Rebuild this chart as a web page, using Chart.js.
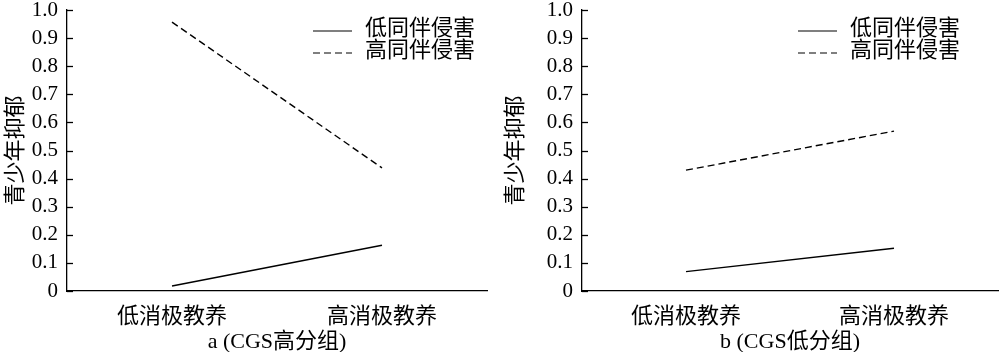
<!DOCTYPE html>
<html>
<head>
<meta charset="utf-8">
<script src="https://cdn.jsdelivr.net/npm/chart.js@4/dist/chart.umd.min.js"></script>
<style>
  body { margin: 0; background: #fff; }
  .wrap { display: flex; width: 1000px; height: 352px; }
  .panel { width: 500px; height: 352px; position: relative; }
</style>
</head>
<body>
<div class="wrap">
  <div class="panel"><canvas id="chartA"></canvas></div>
  <div class="panel"><canvas id="chartB"></canvas></div>
</div>
<script>
// data
const categories = ['低消极教养', '高消极教养'];
const seriesNames = ['低同伴侵害', '高同伴侵害'];
const lowPeerA = [0.018, 0.163];
const highPeerA = [0.957, 0.438];
const lowPeerB = [0.069, 0.152];
const highPeerB = [0.430, 0.569];
const yTicks = [0, 0.1, 0.2, 0.3, 0.4, 0.5, 0.6, 0.7, 0.8, 0.9, 1.0];

const FONT = "'Liberation Serif', 'Noto Sans CJK SC', serif";

// small tick marks pointing into the plot + legend in the top right
const extras = {
  id: 'extras',
  afterDraw(chart, args, opts) {
    const ctx = chart.ctx;
    const y = chart.scales.y;
    const area = chart.chartArea;
    ctx.save();
    ctx.strokeStyle = '#000';
    ctx.lineWidth = 1.3;
    yTicks.forEach(v => {
      const py = Math.round(y.getPixelForValue(v)) + 0.5;
      ctx.beginPath();
      ctx.moveTo(area.left, py);
      ctx.lineTo(area.left + 6, py);
      ctx.stroke();
    });
    // legend
    ctx.font = "22px " + FONT;
    ctx.textBaseline = 'middle';
    ctx.fillStyle = '#000';
    chart.data.datasets.forEach((ds, i) => {
      const ly = opts.top + i * 22;
      ctx.setLineDash(ds.borderDash || []);
      ctx.lineWidth = 1.2;
      ctx.beginPath();
      ctx.moveTo(opts.left, ly);
      ctx.lineTo(opts.left + 39, ly);
      ctx.stroke();
      ctx.setLineDash([]);
      ctx.fillText(ds.label, opts.left + 52, ly - 2);
    });
    ctx.restore();
  }
};

function makeChart(id, lowVals, highVals, title, yWidth, rightPad, legendLeft) {
  return new Chart(document.getElementById(id), {
    type: 'line',
    data: {
      labels: categories,
      datasets: [
        { label: seriesNames[0], data: lowVals, borderColor: '#000', borderWidth: 1.4, pointRadius: 0, fill: false },
        { label: seriesNames[1], data: highVals, borderColor: '#000', borderWidth: 1.4, borderDash: [7, 4], pointRadius: 0, fill: false }
      ]
    },
    options: {
      responsive: false,
      animation: false,
      layout: { padding: { top: 0, right: rightPad, left: 0, bottom: 0 } },
      plugins: {
        legend: { display: false },
        tooltip: { enabled: false },
        extras: { left: legendLeft, top: 31 }
      },
      scales: {
        x: {
          type: 'category',
          offset: true,
          grid: { display: false, drawTicks: false },
          border: { display: true, color: '#000', width: 1.3 },
          ticks: { color: '#000', font: { family: FONT, size: 22 }, padding: 13, maxRotation: 0, autoSkip: false },
          title: { display: true, text: title, color: '#000', font: { family: FONT, size: 22 }, padding: { top: 4, bottom: -3 } },
          afterFit(scale) { scale.height = 61; scale.paddingLeft = 0; scale.paddingRight = 0; }
        },
        y: {
          min: 0,
          max: 1,
          afterBuildTicks(scale) { scale.ticks = yTicks.map(v => ({ value: v })); },
          grid: { display: false, drawTicks: false },
          border: { display: true, color: '#000', width: 1.3 },
          ticks: {
            color: '#000',
            font: { family: FONT, size: 21 },
            padding: 9,
            autoSkip: false,
            callback: v => (v === 0 ? '0' : v.toFixed(1))
          },
          title: { display: true, text: '青少年抑郁', color: '#000', font: { family: FONT, size: 22 }, padding: { top: 3, bottom: 0 } },
          afterFit(scale) { scale.width = yWidth; scale.paddingTop = 10; scale.paddingBottom = 0; }
        }
      }
    },
    plugins: [extras]
  });
}

document.getElementById('chartA').width = 500;
document.getElementById('chartA').height = 352;
document.getElementById('chartB').width = 500;
document.getElementById('chartB').height = 352;

makeChart('chartA', lowPeerA, highPeerA, 'a (CGS高分组)', 67, 13, 313);
makeChart('chartB', lowPeerB, highPeerB, 'b (CGS低分组)', 82, 2, 298);
</script>
</body>
</html>
